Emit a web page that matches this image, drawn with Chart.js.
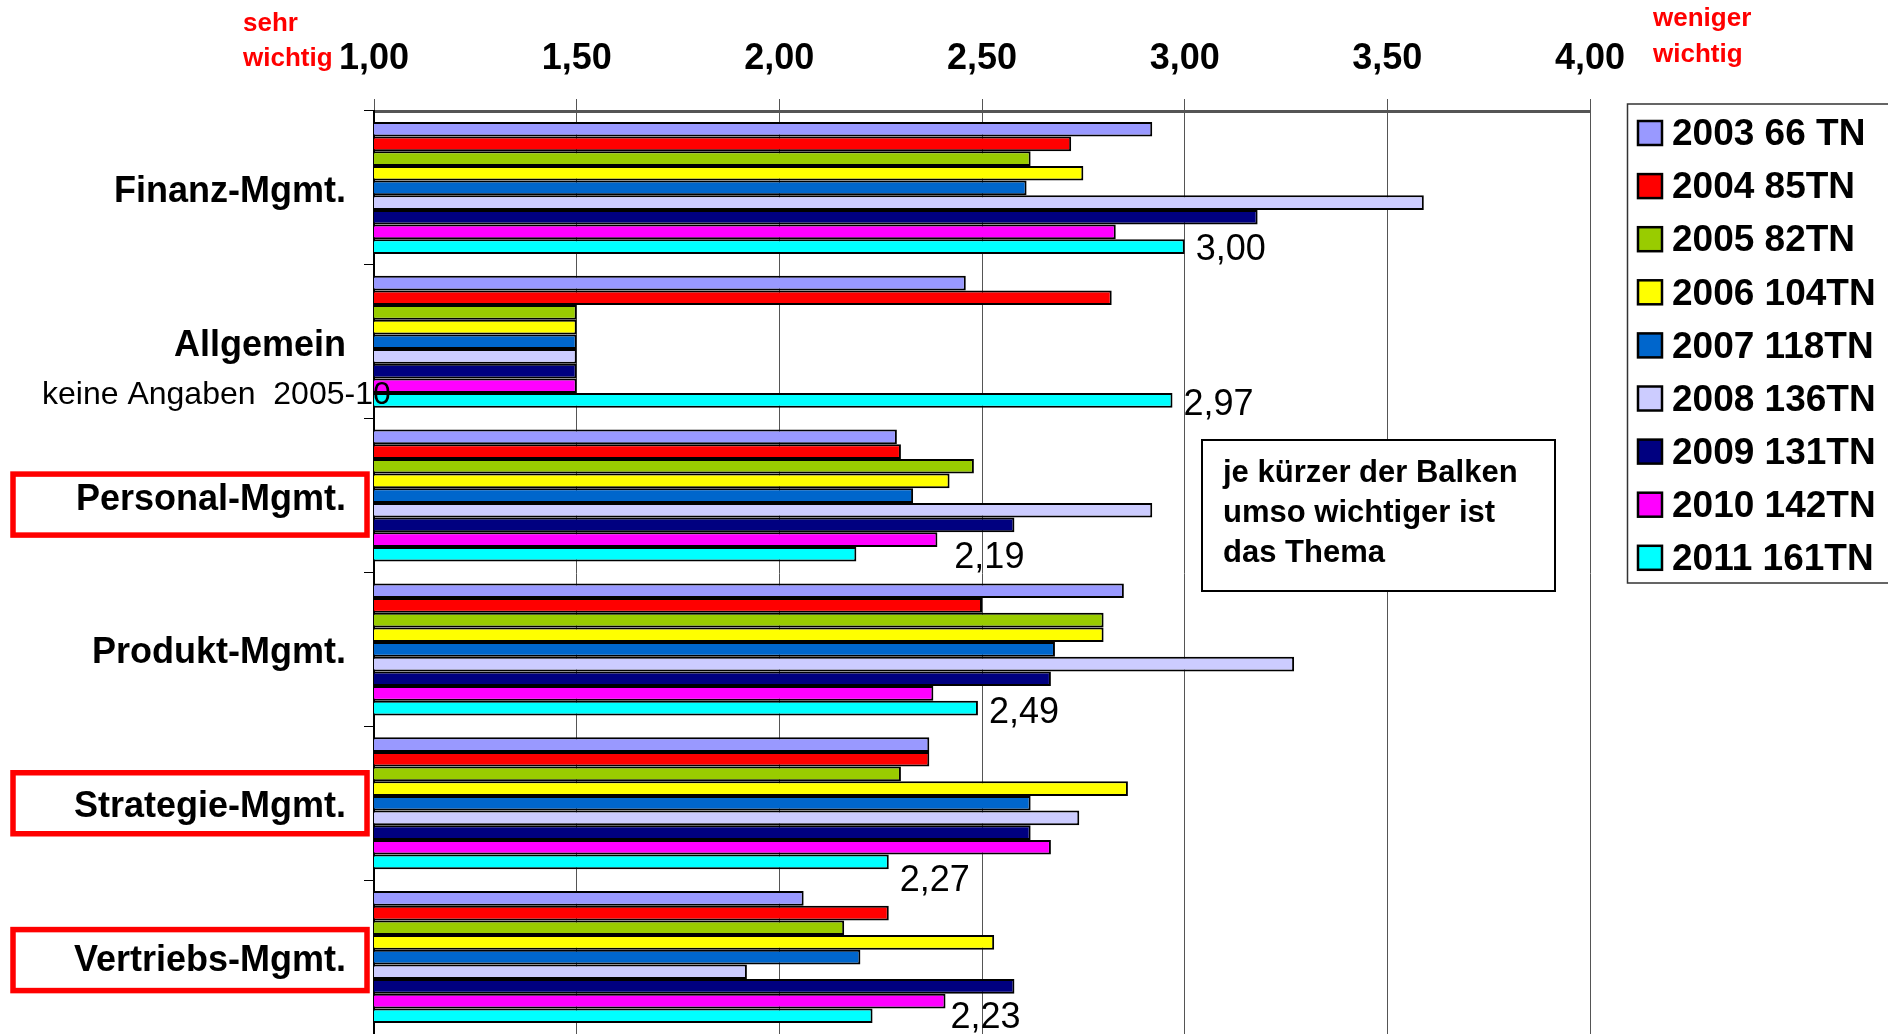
<!DOCTYPE html>
<html>
<head>
<meta charset="utf-8">
<script src="https://cdn.jsdelivr.net/npm/chart.js@4.4.1/dist/chart.umd.min.js"></script>
<style>
  html, body { margin: 0; padding: 0; background: #fff; }
  #wrap { width: 1888px; height: 1034px; position: relative; }
</style>
</head>
<body>
<div id="wrap"><canvas id="myChart"></canvas></div>
<script>
const categories = ['Finanz-Mgmt.', 'Allgemein', 'Personal-Mgmt.', 'Produkt-Mgmt.', 'Strategie-Mgmt.', 'Vertriebs-Mgmt.'];
const seriesLabels = ['2003 66 TN', '2004 85TN', '2005 82TN', '2006 104TN', '2007 118TN', '2008 136TN', '2009 131TN', '2010 142TN', '2011 161TN'];

const s2003 = [2.92, 2.46, 2.29, 2.85, 2.37, 2.06];
const s2004 = [2.72, 2.82, 2.30, 2.50, 2.37, 2.27];
const s2005 = [2.62, 1.50, 2.48, 2.80, 2.30, 2.16];
const s2006 = [2.75, 1.50, 2.42, 2.80, 2.86, 2.53];
const s2007 = [2.61, 1.50, 2.33, 2.68, 2.62, 2.20];
const s2008 = [3.59, 1.50, 2.92, 3.27, 2.74, 1.92];
const s2009 = [3.18, 1.50, 2.58, 2.67, 2.62, 2.58];
const s2010 = [2.83, 1.50, 2.39, 2.38, 2.67, 2.41];
const s2011 = [3.00, 2.97, 2.19, 2.49, 2.27, 2.23];

const xTickLabels = ['1,00', '1,50', '2,00', '2,50', '3,00', '3,50', '4,00'];

const colors = ['#9999FF', '#FF0000', '#99CC00', '#FFFF00', '#0066CC', '#CCCCFF', '#000080', '#FF00FF', '#00FFFF'];
const allSeries = [s2003, s2004, s2005, s2006, s2007, s2008, s2009, s2010, s2011];

const FONT = 'Liberation Sans, Arial, sans-serif';
// manual nudges of the 2011 value labels (px), as in the original sheet
const labelNudge = [[0, 3], [0, 5], [87, 4], [0, 5], [0, 19], [67, 2]];
// categories that got a red frame round their label: [index, dy]
const framed = [[2, 9], [4, 0], [5, 3]];

const extras = {
    id: 'extras',
    afterDatasetsDraw(chart) {
        const ctx = chart.ctx;
        const y = chart.scales.y;
        const last = chart.getDatasetMeta(chart.data.datasets.length - 1);
        ctx.save();
        ctx.fillStyle = '#000';
        ctx.font = '36px ' + FONT;
        ctx.textAlign = 'left';
        ctx.textBaseline = 'middle';
        last.data.forEach((bar, i) => {
            const v = s2011[i].toFixed(2).replace('.', ',');
            ctx.fillText(v, bar.x + 11 + labelNudge[i][0], bar.y + labelNudge[i][1]);
        });

        // note under "Allgemein"
        ctx.font = '32px ' + FONT;
        ctx.fillText('keine Angaben  2005-10', 42, y.getPixelForValue(1) + 53);
        ctx.restore();
    },
    afterDraw(chart) {
        const ctx = chart.ctx;
        const y = chart.scales.y;
        ctx.save();

        // red frames
        ctx.strokeStyle = '#FF0000';
        ctx.lineWidth = 5.5;
        framed.forEach(([i, dy]) => {
            const cy = y.getPixelForValue(i) + dy;
            ctx.strokeRect(13, cy - 30.5, 354, 61);
        });

        // sehr / weniger wichtig
        ctx.fillStyle = '#FF0000';
        ctx.font = 'bold 26px ' + FONT;
        ctx.textAlign = 'left';
        ctx.textBaseline = 'middle';
        ctx.fillText('sehr', 243, 24);
        ctx.fillText('wichtig', 243, 59);
        ctx.fillText('weniger', 1653, 19);
        ctx.fillText('wichtig', 1653, 55);

        // note box
        ctx.fillStyle = '#fff';
        ctx.fillRect(1202, 440, 353, 151);
        ctx.strokeStyle = '#000';
        ctx.lineWidth = 2;
        ctx.strokeRect(1202, 440, 353, 151);
        ctx.fillStyle = '#000';
        ctx.font = 'bold 31px ' + FONT;
        ['je kürzer der Balken', 'umso wichtiger ist', 'das Thema'].forEach((t, k) => {
            ctx.fillText(t, 1223, 473 + k * 40);
        });

        // legend
        ctx.strokeStyle = '#333';
        ctx.lineWidth = 1.5;
        ctx.strokeRect(1627.5, 104, 270, 479);
        ctx.font = 'bold 37px ' + FONT;
        chart.data.datasets.forEach((ds, k) => {
            const cy = 133 + k * 53.1;
            ctx.fillStyle = ds.backgroundColor;
            ctx.fillRect(1638, cy - 12, 24, 24);
            ctx.strokeStyle = '#000';
            ctx.lineWidth = 2.5;
            ctx.strokeRect(1638, cy - 12, 24, 24);
            ctx.fillStyle = '#000';
            ctx.fillText(ds.label, 1672, cy + 2);
        });
        ctx.restore();
    }
};

const ctx = document.getElementById('myChart');

new Chart(ctx, {
type: 'bar',
data: {
    labels: categories,
    datasets: allSeries.map((s, k) => ({
        label: seriesLabels[k],
        data: s,
        backgroundColor: colors[k],
        borderColor: '#000',
        borderWidth: 2,
        borderSkipped: false,
        barPercentage: 1,
        categoryPercentage: 0.858,
    }))
},
options: {
    indexAxis: 'y',
    responsive: true,
    maintainAspectRatio: false,
    devicePixelRatio: 1,
    animation: false,
    layout: { autoPadding: false, padding: { left: 0, right: 298, top: 0, bottom: 0 } },
    scales: {
        x: {
            position: 'top',
            min: 1,
            max: 4,
            ticks: {
                stepSize: 0.5,
                padding: 18,
                color: '#000',
                font: { family: FONT, size: 36, weight: 'bold' },
                callback: (v, i) => xTickLabels[i],
            },
            grid: { color: '#555', lineWidth: 1, tickLength: 12 },
            border: { color: '#555', width: 3 },
            afterFit: scale => { scale.height = 111; },
        },
        y: {
            ticks: {
                padding: 18,
                labelOffset: 4,
                color: '#000',
                font: { family: FONT, size: 36, weight: 'bold' },
            },
            grid: { drawOnChartArea: false, offset: true, tickLength: 10, color: '#000' },
            border: { color: '#000', width: 2 },
            afterFit: scale => {
                scale.width = 374;
                scale.paddingTop = 0;
                scale.paddingBottom = 0;
            },
        }
    },
    plugins: {
        legend: { display: false },
        tooltip: { enabled: false },
    }
},
plugins: [extras]
});
</script>
</body>
</html>
